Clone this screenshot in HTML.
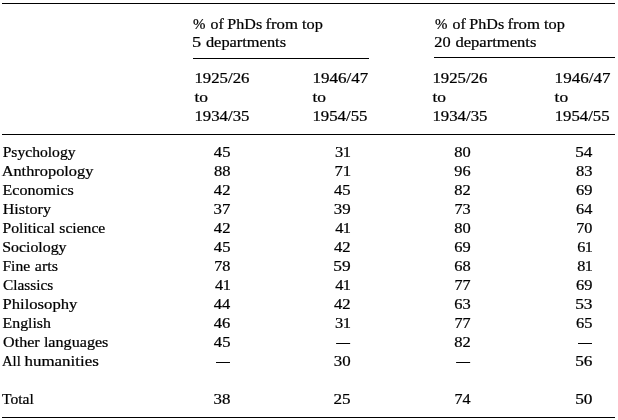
<!DOCTYPE html>
<html lang="en">
<head>
<meta charset="utf-8">
<title>PhDs from top departments</title>
<style>
html,body{margin:0;padding:0;background:#fff;}
body{width:618px;height:420px;position:relative;overflow:hidden;font-family:"Liberation Serif",serif;font-size:14.5px;line-height:20px;color:#000;}
.r{position:absolute;background:#000;}
.l{position:absolute;left:0;width:618px;height:20px;}
.l span{position:absolute;top:0;white-space:nowrap;transform-origin:0 0;-webkit-text-stroke:0.22px #000;}
</style>
</head>
<body>
<div class="r" style="left:2px;top:3px;width:613px;height:1px"></div>
<div class="r" style="left:193px;top:58px;width:176px;height:1px"></div>
<div class="r" style="left:434px;top:57px;width:181px;height:1px"></div>
<div class="r" style="left:2px;top:134px;width:613px;height:1px"></div>
<div class="r" style="left:2px;top:417px;width:613px;height:1px"></div>
<div class="l" style="top:14px"><span style="left:192px;transform:translateX(0.89px) scaleX(1.0294)">%</span> <span style="left:210px;transform:translateX(0.62px) scaleX(1.0914)">of</span> <span style="left:227px;transform:translateX(0.31px) scaleX(1.1081)">PhDs</span> <span style="left:265px;transform:translateX(0.48px) scaleX(1.1509)">from</span> <span style="left:302px;transform:translateX(0.04px) scaleX(1.1221)">top</span></div>
<div class="l" style="top:14px"><span style="left:434px;transform:translateX(0.89px) scaleX(1.0294)">%</span> <span style="left:452px;transform:translateX(0.62px) scaleX(1.0914)">of</span> <span style="left:469px;transform:translateX(0.31px) scaleX(1.1081)">PhDs</span> <span style="left:507px;transform:translateX(0.48px) scaleX(1.1509)">from</span> <span style="left:544px;transform:translateX(0.04px) scaleX(1.1221)">top</span></div>
<div class="l" style="top:32px"><span style="left:192px;transform:translateX(0.00px) scaleX(1.2636)">5</span> <span style="left:205px;transform:translateX(0.93px) scaleX(1.1301)">departments</span></div>
<div class="l" style="top:32px"><span style="left:434px;transform:translateX(0.34px) scaleX(1.1255)">20</span> <span style="left:455px;transform:translateX(0.43px) scaleX(1.1415)">departments</span></div>
<div class="l" style="top:68px"><span style="left:194px;transform:translateX(0.44px) scaleX(1.1575)">1925/26</span></div>
<div class="l" style="top:87px"><span style="left:194px;transform:translateX(0.39px) scaleX(1.1993)">to</span></div>
<div class="l" style="top:106px"><span style="left:194px;transform:translateX(0.44px) scaleX(1.1575)">1934/35</span></div>
<div class="l" style="top:68px"><span style="left:312px;transform:translateX(0.41px) scaleX(1.1751)">1946/47</span></div>
<div class="l" style="top:87px"><span style="left:312px;transform:translateX(0.39px) scaleX(1.1993)">to</span></div>
<div class="l" style="top:106px"><span style="left:312px;transform:translateX(0.44px) scaleX(1.1575)">1954/55</span></div>
<div class="l" style="top:68px"><span style="left:432px;transform:translateX(0.44px) scaleX(1.1575)">1925/26</span></div>
<div class="l" style="top:87px"><span style="left:432px;transform:translateX(0.39px) scaleX(1.1993)">to</span></div>
<div class="l" style="top:106px"><span style="left:432px;transform:translateX(0.44px) scaleX(1.1575)">1934/35</span></div>
<div class="l" style="top:68px"><span style="left:554px;transform:translateX(0.61px) scaleX(1.1751)">1946/47</span></div>
<div class="l" style="top:87px"><span style="left:554px;transform:translateX(0.59px) scaleX(1.1993)">to</span></div>
<div class="l" style="top:106px"><span style="left:554px;transform:translateX(0.64px) scaleX(1.1575)">1954/55</span></div>
<div class="l" style="top:142px"><span style="left:2px;transform:translateX(0.63px) scaleX(1.0775)">Psychology</span> <span style="left:213px;transform:translateX(0.83px) scaleX(1.1455)">45</span> <span style="left:334px;transform:translateX(0.92px) scaleX(1.1349);letter-spacing:-0.34px">31</span> <span style="left:454px;transform:translateX(0.20px) scaleX(1.1351)">80</span> <span style="left:575px;transform:translateX(0.17px) scaleX(1.1836)">54</span></div>
<div class="l" style="top:161px"><span style="left:1px;transform:translateX(0.64px) scaleX(1.1274)">Anthropology</span> <span style="left:213px;transform:translateX(0.95px) scaleX(1.1363)">88</span> <span style="left:334px;transform:translateX(0.39px) scaleX(1.1566);letter-spacing:-0.11px">71</span> <span style="left:454px;transform:translateX(0.30px) scaleX(1.1222)">96</span> <span style="left:576px;transform:translateX(0.00px) scaleX(1.1370)">83</span></div>
<div class="l" style="top:180px"><span style="left:2px;transform:translateX(0.52px) scaleX(1.1072)">Economics</span> <span style="left:213px;transform:translateX(0.83px) scaleX(1.1458)">42</span> <span style="left:333px;transform:translateX(0.98px) scaleX(1.1455)">45</span> <span style="left:454px;transform:translateX(0.20px) scaleX(1.1373)">82</span> <span style="left:576px;transform:translateX(0.04px) scaleX(1.1341)">69</span></div>
<div class="l" style="top:199px"><span style="left:2px;transform:translateX(0.74px) scaleX(1.1085)">History</span> <span style="left:213px;transform:translateX(0.56px) scaleX(1.1608)">37</span> <span style="left:333px;transform:translateX(0.71px) scaleX(1.1655)">39</span> <span style="left:454px;transform:translateX(0.42px) scaleX(1.1210)">73</span> <span style="left:576px;transform:translateX(0.04px) scaleX(1.1213)">64</span></div>
<div class="l" style="top:218px"><span style="left:2px;transform:translateX(0.52px) scaleX(1.0829)">Political</span> <span style="left:59px;transform:translateX(0.34px) scaleX(1.0766)">science</span> <span style="left:213px;transform:translateX(0.83px) scaleX(1.1458)">42</span> <span style="left:335px;transform:translateX(0.19px) scaleX(1.1241);letter-spacing:-0.46px">41</span> <span style="left:454px;transform:translateX(0.20px) scaleX(1.1351)">80</span> <span style="left:576px;transform:translateX(0.23px) scaleX(1.1190)">70</span></div>
<div class="l" style="top:237px"><span style="left:2px;transform:translateX(0.24px) scaleX(1.0935)">Sociology</span> <span style="left:213px;transform:translateX(0.83px) scaleX(1.1455)">45</span> <span style="left:333px;transform:translateX(0.98px) scaleX(1.1458)">42</span> <span style="left:454px;transform:translateX(0.24px) scaleX(1.1341)">69</span> <span style="left:577px;transform:translateX(0.24px) scaleX(1.1180);letter-spacing:-0.54px">61</span></div>
<div class="l" style="top:256px"><span style="left:2px;transform:translateX(0.46px) scaleX(1.0740)">Fine</span> <span style="left:34px;transform:translateX(0.83px) scaleX(1.1059)">arts</span> <span style="left:214px;transform:translateX(0.18px) scaleX(1.1202)">78</span> <span style="left:333px;transform:translateX(0.26px) scaleX(1.1979)">59</span> <span style="left:454px;transform:translateX(0.24px) scaleX(1.1334)">68</span> <span style="left:577px;transform:translateX(0.20px) scaleX(1.1196);letter-spacing:-0.52px">81</span></div>
<div class="l" style="top:275px"><span style="left:3px;transform:translateX(0.06px) scaleX(1.0534)">Classics</span> <span style="left:215px;transform:translateX(0.04px) scaleX(1.1241);letter-spacing:-0.46px">41</span> <span style="left:335px;transform:translateX(0.19px) scaleX(1.1241);letter-spacing:-0.46px">41</span> <span style="left:454px;transform:translateX(0.43px) scaleX(1.1163)">77</span> <span style="left:576px;transform:translateX(0.04px) scaleX(1.1341)">69</span></div>
<div class="l" style="top:294px"><span style="left:2px;transform:translateX(0.48px) scaleX(1.1470)">Philosophy</span> <span style="left:213px;transform:translateX(0.84px) scaleX(1.1324)">44</span> <span style="left:333px;transform:translateX(0.98px) scaleX(1.1458)">42</span> <span style="left:454px;transform:translateX(0.24px) scaleX(1.1342)">63</span> <span style="left:575px;transform:translateX(0.16px) scaleX(1.1980)">53</span></div>
<div class="l" style="top:313px"><span style="left:2px;transform:translateX(0.53px) scaleX(1.0926)">English</span> <span style="left:213px;transform:translateX(0.84px) scaleX(1.1376)">46</span> <span style="left:334px;transform:translateX(0.92px) scaleX(1.1349);letter-spacing:-0.34px">31</span> <span style="left:454px;transform:translateX(0.43px) scaleX(1.1163)">77</span> <span style="left:576px;transform:translateX(0.04px) scaleX(1.1342)">65</span></div>
<div class="l" style="top:332px"><span style="left:3px;transform:translateX(0.12px) scaleX(1.1084)">Other</span> <span style="left:43px;transform:translateX(0.89px) scaleX(1.1125)">languages</span> <span style="left:213px;transform:translateX(0.83px) scaleX(1.1455)">45</span> <span style="left:336px;transform:translateX(0.46px) scaleX(0.9275);text-shadow:0 0 0 #000,0 0.3px 0 #000">&mdash;</span> <span style="left:454px;transform:translateX(0.20px) scaleX(1.1373)">82</span> <span style="left:578px;transform:translateX(0.36px) scaleX(0.9275);text-shadow:0 0 0 #000,0 0.3px 0 #000">&mdash;</span></div>
<div class="l" style="top:351px"><span style="left:1px;transform:translateX(0.96px) scaleX(1.0123)">All</span> <span style="left:24px;transform:translateX(0.46px) scaleX(1.1673)">humanities</span> <span style="left:216px;transform:translateX(0.31px) scaleX(0.9275);text-shadow:0 0 0 #000,0 0.3px 0 #000">&mdash;</span> <span style="left:333px;transform:translateX(0.71px) scaleX(1.1636)">30</span> <span style="left:456px;transform:translateX(0.56px) scaleX(0.9275);text-shadow:0 0 0 #000,0 0.3px 0 #000">&mdash;</span> <span style="left:575px;transform:translateX(0.16px) scaleX(1.1894)">56</span></div>
<div class="l" style="top:389px"><span style="left:1px;transform:translateX(0.98px) scaleX(1.0736)">Total</span> <span style="left:213px;transform:translateX(0.56px) scaleX(1.1647)">38</span> <span style="left:333px;transform:translateX(0.50px) scaleX(1.1801)">25</span> <span style="left:454px;transform:translateX(0.44px) scaleX(1.1075)">74</span> <span style="left:575px;transform:translateX(0.16px) scaleX(1.1958)">50</span></div>
</body>
</html>
